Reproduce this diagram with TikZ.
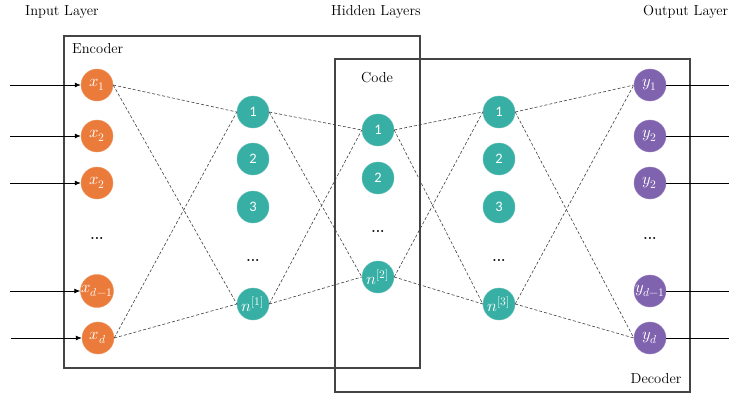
\documentclass[tikz,border=0pt]{standalone}
\usepackage{fontspec}
\usepackage{unicode-math}
\setmathfont{Latin Modern Math}
\newfontfamily\numfont{Carlito}
\usetikzlibrary{arrows.meta}
\definecolor{inorange}{HTML}{EB7B3A}
\definecolor{hidteal}{HTML}{37AFA4}
\definecolor{outpurple}{HTML}{8063AE}
\definecolor{boxgray}{HTML}{444444}
\tikzset{
  neuron/.style={circle, minimum size=32pt, inner sep=0pt, text=white,
    font=\numfont\fontsize{14.5}{16}\selectfont},
  inneuron/.style={neuron, fill=inorange, draw=inorange!80!white},
  hidneuron/.style={neuron, fill=hidteal, draw=hidteal!80!white},
  outneuron/.style={neuron, fill=outpurple, draw=outpurple!80!white},
  mathlabel/.style={font=\fontsize{16.5}{18}\selectfont},
  dotsnode/.style={inner sep=0pt, font=\fontsize{14}{16}\selectfont\bfseries},
  heading/.style={inner sep=0pt, font=\fontsize{14.5}{17}\selectfont},
  layerbox/.style={draw=boxgray, line width=1.2pt},
  weight/.style={draw=black!75, line width=0.6pt, dash pattern=on 3pt off 2pt},
  feed/.style={draw=black, line width=0.8pt},
}
\begin{document}
\begin{tikzpicture}[x=1pt, y=-1pt]
\useasboundingbox (0,0) rectangle (729,394);

% encoder and decoder frames
\draw[layerbox] (64,36) rectangle (420,368);
\draw[layerbox] (335,59) rectangle (690,392);

% headings
\node[heading, anchor=west] (hin) at (25,12) {Input Layer};
\node[heading, anchor=west] (hhid) at (331,12) {Hidden Layers};
\node[heading, anchor=west] (hout) at (643,12) {Output Layer};
\node[heading, anchor=west] (henc) at (72,49) {Encoder};
\node[heading] (hcode) at (377,78) {Code};
\node[heading] (hdec) at (656,379) {Decoder};

% input layer
\node[inneuron, mathlabel] (x1) at (97,85) {$x_1$};
\node[inneuron, mathlabel] (x2) at (97,136) {$x_2$};
\node[inneuron, mathlabel] (x3) at (97,183) {$x_2$};
\node[dotsnode] (xdots) at (97,238) {...};
\node[inneuron, mathlabel] (xd1) at (97,291) {$x_{d-1}$};
\node[inneuron, mathlabel] (xd) at (98,338) {$x_d$};

% first hidden layer
\node[hidneuron] (a1) at (253,112) {1};
\node[hidneuron] (a2) at (253,159) {2};
\node[hidneuron] (a3) at (253,207) {3};
\node[dotsnode] (adots) at (253,260) {...};
\node[hidneuron, mathlabel] (an) at (253,304) {$n^{[1]}$};

% code layer
\node[hidneuron] (c1) at (378,130) {1};
\node[hidneuron] (c2) at (378,178) {2};
\node[dotsnode] (cdots) at (378,231) {...};
\node[hidneuron, mathlabel] (cn) at (378,277) {$n^{[2]}$};

% third hidden layer
\node[hidneuron] (b1) at (499,112) {1};
\node[hidneuron] (b2) at (499,159) {2};
\node[hidneuron] (b3) at (499,207) {3};
\node[dotsnode] (bdots) at (499,260) {...};
\node[hidneuron, mathlabel] (bn) at (499,304) {$n^{[3]}$};

% output layer
\node[outneuron, mathlabel] (y1) at (650,85) {$y_1$};
\node[outneuron, mathlabel] (y2) at (650,136) {$y_2$};
\node[outneuron, mathlabel] (y3) at (650,183) {$y_2$};
\node[dotsnode] (ydots) at (650,238) {...};
\node[outneuron, mathlabel] (yd1) at (650,291) {$y_{d-1}$};
\node[outneuron, mathlabel] (yd) at (650,338) {$y_d$};

% incoming signals
\coordinate (i1) at (10,85);
\coordinate (i2) at (10,136);
\coordinate (i3) at (10,183);
\coordinate (i4) at (10,291);
\coordinate (i5) at (11,338);
\foreach \s/\t in {i1/x1, i2/x2, i3/x3, i4/xd1, i5/xd}
  \draw[feed, -{Latex[length=6pt, width=5pt]}] (\s) -- (\t);

% outgoing signals
\coordinate (o1) at (729,85);
\coordinate (o2) at (729,136);
\coordinate (o3) at (729,183);
\coordinate (o4) at (729,291);
\coordinate (o5) at (729,338);
\foreach \s/\t in {y1/o1, y2/o2, y3/o3, yd1/o4, yd/o5}
  \draw[feed] (\s) -- (\t);

% weights between first and last units of neighbouring layers
\foreach \s/\t in {x1/a1, x1/an, xd/a1, xd/an,
                   a1/c1, a1/cn, an/c1, an/cn,
                   c1/b1, c1/bn, cn/b1, cn/bn,
                   b1/y1, b1/yd, bn/y1, bn/yd}
  \draw[weight] (\s.east) -- (\t.west);
\end{tikzpicture}
\end{document}
